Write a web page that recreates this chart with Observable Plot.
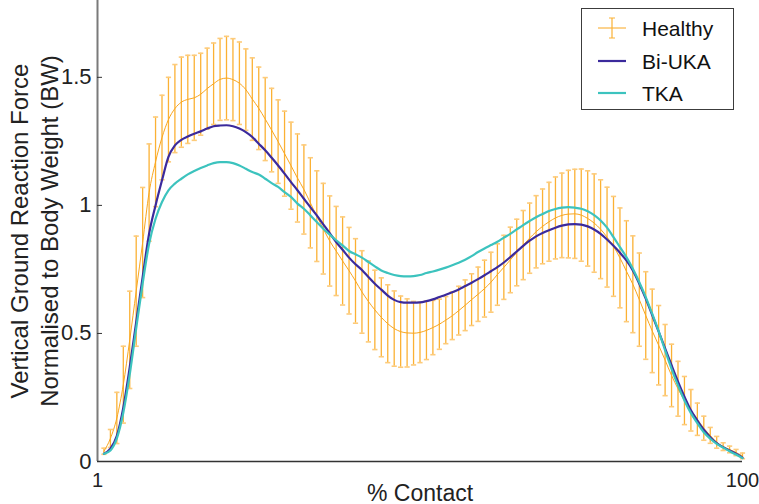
<!DOCTYPE html>
<html><head><meta charset="utf-8">
<script src="https://cdn.jsdelivr.net/npm/d3@7"></script>
<script src="https://cdn.jsdelivr.net/npm/@observablehq/plot@0.6"></script>
<style>
body{margin:0;background:#fff;}
#wrap{position:relative;width:759px;height:504px;overflow:hidden;font-family:"Liberation Sans",Arial,sans-serif;}
#legend{position:absolute;left:581px;top:8px;width:153px;height:102px;box-sizing:border-box;border:1.5px solid #3c3c3c;background:#fff;}
</style></head><body><div id="wrap"></div>
<script>
// % contact (x) and tick labels
const contact = d3.range(1, 101);
const xTickValues = [0, 100];
const xTickLabels = ["1", "100"];
const yTickValues = [0, 0.5, 1, 1.5];
const yTickLabels = ["0", "0.5", "1", "1.5"];
const seriesNames = ["Healthy", "Bi-UKA", "TKA"];

// Healthy mean and SD
const healthyMean = [
0.04,0.09,0.17,0.30,0.475,0.665,0.855,1.05,1.17,1.265,1.335,1.378,1.403,1.414,1.42,1.434,1.456,1.475,1.492,1.497,
1.491,1.477,1.452,1.415,1.379,1.337,1.294,1.249,1.202,1.155,1.107,1.062,1.01,0.958,0.909,0.861,0.822,0.783,0.745,0.705,
0.662,0.625,0.592,0.563,0.538,0.519,0.507,0.502,0.501,0.504,0.512,0.523,0.536,0.552,0.569,0.589,0.61,0.632,0.653,0.675,
0.7,0.73,0.758,0.787,0.816,0.845,0.872,0.897,0.918,0.936,0.951,0.961,0.966,0.967,0.962,0.949,0.931,0.907,0.876,0.84,
0.795,0.743,0.692,0.632,0.57,0.51,0.454,0.396,0.336,0.284,0.238,0.2,0.165,0.13,0.102,0.075,0.058,0.047,0.035,0.022];
const healthySD = [
0.012,0.035,0.1,0.15,0.19,0.215,0.215,0.19,0.175,0.165,0.165,0.172,0.176,0.172,0.166,0.16,0.158,0.159,0.16,0.163,
0.16,0.161,0.159,0.161,0.161,0.162,0.163,0.163,0.166,0.17,0.172,0.174,0.176,0.177,0.177,0.176,0.174,0.172,0.169,0.165,
0.161,0.158,0.155,0.154,0.152,0.147,0.139,0.133,0.124,0.118,0.114,0.106,0.098,0.092,0.093,0.095,0.099,0.101,0.106,0.111,
0.117,0.12,0.125,0.128,0.13,0.135,0.137,0.141,0.146,0.154,0.16,0.165,0.171,0.174,0.18,0.186,0.192,0.193,0.195,0.195,
0.195,0.197,0.189,0.182,0.171,0.163,0.155,0.139,0.122,0.107,0.094,0.081,0.063,0.047,0.031,0.023,0.015,0.013,0.012,0.011];
const biUKA = [
0.03,0.05,0.10,0.21,0.368,0.544,0.72,0.889,1.0,1.098,1.189,1.234,1.256,1.269,1.28,1.289,1.3,1.309,1.312,1.313,
1.309,1.3,1.286,1.267,1.241,1.215,1.186,1.156,1.124,1.091,1.059,1.026,0.993,0.961,0.926,0.892,0.857,0.827,0.796,0.77,
0.748,0.72,0.694,0.671,0.648,0.631,0.622,0.62,0.62,0.621,0.626,0.633,0.642,0.651,0.661,0.672,0.685,0.698,0.712,0.727,
0.743,0.759,0.777,0.798,0.82,0.842,0.862,0.879,0.892,0.903,0.913,0.921,0.926,0.927,0.925,0.918,0.906,0.889,0.867,0.842,
0.815,0.785,0.746,0.694,0.636,0.572,0.507,0.442,0.376,0.312,0.253,0.2,0.16,0.124,0.095,0.072,0.056,0.043,0.03,0.015];
const tka = [
0.03,0.043,0.09,0.19,0.34,0.52,0.695,0.85,0.948,1.013,1.059,1.085,1.104,1.121,1.134,1.146,1.156,1.165,1.169,1.169,
1.165,1.156,1.143,1.13,1.121,1.104,1.087,1.072,1.052,1.033,1.007,0.987,0.961,0.935,0.909,0.886,0.864,0.844,0.822,0.809,
0.796,0.779,0.762,0.746,0.736,0.728,0.724,0.723,0.724,0.728,0.736,0.742,0.749,0.757,0.766,0.776,0.788,0.802,0.818,0.832,
0.845,0.858,0.874,0.889,0.906,0.923,0.939,0.954,0.966,0.978,0.986,0.991,0.993,0.991,0.987,0.977,0.962,0.941,0.913,0.876,
0.837,0.798,0.753,0.7,0.642,0.577,0.509,0.434,0.362,0.297,0.238,0.189,0.15,0.114,0.089,0.069,0.054,0.04,0.027,0.013];

const colBar = "#FBB134", colCap = "#FDCB7A", colMean = "#F9A61E", colBi = "#3B2A9C", colTka = "#3CC3BE";

const data = contact.map((x, i) => ({
  x, m: healthyMean[i], lo: healthyMean[i] - healthySD[i], hi: healthyMean[i] + healthySD[i],
  b: biUKA[i], t: tka[i]
}));

const capSymbol = {draw(ctx, size) { const r = Math.sqrt(size / Math.PI); ctx.moveTo(-r, 0); ctx.lineTo(r, 0); }};
const font = "'Liberation Sans', Arial, sans-serif";

const chart = Plot.plot({
  width: 759, height: 504,
  marginLeft: 97, marginRight: 17, marginTop: 0, marginBottom: 43,
  style: {fontFamily: font, fontSize: "21px", color: "#222", background: "white", overflow: "visible"},
  x: {domain: [0, 100]},
  y: {domain: [0, 1.8]},
  marks: [
    Plot.ruleX(data, {x: "x", y1: "lo", y2: "hi", stroke: colBar, strokeWidth: 1.3}),
    Plot.dot(data, {x: "x", y: "lo", symbol: capSymbol, r: 2.6, stroke: colCap, strokeWidth: 1.6, fill: "none"}),
    Plot.dot(data, {x: "x", y: "hi", symbol: capSymbol, r: 2.6, stroke: colCap, strokeWidth: 1.6, fill: "none"}),
    Plot.line(data, {x: "x", y: "m", stroke: colMean, strokeWidth: 1, curve: "monotone-x"}),
    Plot.line(data, {x: "x", y: "b", stroke: colBi, strokeWidth: 2.2, curve: "monotone-x"}),
    Plot.line(data, {x: "x", y: "t", stroke: colTka, strokeWidth: 2.2, curve: "monotone-x"}),
    Plot.ruleX([0], {stroke: "#7a7a7a", strokeWidth: 2}),
    Plot.ruleY([0], {stroke: "#333", strokeWidth: 1.5}),
    Plot.axisY({ticks: yTickValues, tickSize: -5, tickPadding: 11, tickFormat: (d, i) => yTickLabels[i], label: null, stroke: "#333", fontSize: 22}),
    Plot.axisX({ticks: xTickValues, tickSize: 0, tickPadding: 11, tickFormat: (d, i) => xTickLabels[i], label: null, fontSize: 20}),
    Plot.text(["Vertical Ground Reaction Force\nNormalised to Body Weight (BW)"], {
      frameAnchor: "left", rotate: -90, dx: -64, lineHeight: 1.25, fontSize: 24, fill: "#222", textAnchor: "middle"}),
    Plot.text(["% Contact"], {frameAnchor: "bottom", dy: 39, fontSize: 23, fill: "#222", lineAnchor: "bottom"})
  ]
});

const wrap = document.getElementById("wrap");
wrap.appendChild(chart);

// legend
const lg = document.createElement("div");
lg.id = "legend";
const ns = "http://www.w3.org/2000/svg";
const svg = document.createElementNS(ns, "svg");
svg.setAttribute("width", 150); svg.setAttribute("height", 99);
svg.style.position = "absolute"; svg.style.left = "0"; svg.style.top = "0";
const legendColors = [colMean, colBi, colTka];
const rowY = [19, 52, 84];
seriesNames.forEach((name, i) => {
  const y = rowY[i];
  const l = document.createElementNS(ns, "line");
  l.setAttribute("x1", 16); l.setAttribute("x2", 44); l.setAttribute("y1", y); l.setAttribute("y2", y);
  l.setAttribute("stroke", legendColors[i]); l.setAttribute("stroke-width", i === 0 ? 1 : 2.2);
  svg.appendChild(l);
  if (i === 0) {
    const v = document.createElementNS(ns, "path");
    v.setAttribute("d", `M30,${y-10}V${y+10}M27,${y-10}H33M27,${y+10}H33`);
    v.setAttribute("stroke", colBar); v.setAttribute("stroke-width", 1.2); v.setAttribute("fill", "none");
    svg.appendChild(v);
  }
  const t = document.createElementNS(ns, "text");
  t.setAttribute("x", 60); t.setAttribute("y", y + 7.5);
  t.setAttribute("font-size", 21); t.setAttribute("font-family", font); t.setAttribute("fill", "#111");
  t.textContent = name;
  svg.appendChild(t);
});
lg.appendChild(svg);
wrap.appendChild(lg);
</script></body></html>
